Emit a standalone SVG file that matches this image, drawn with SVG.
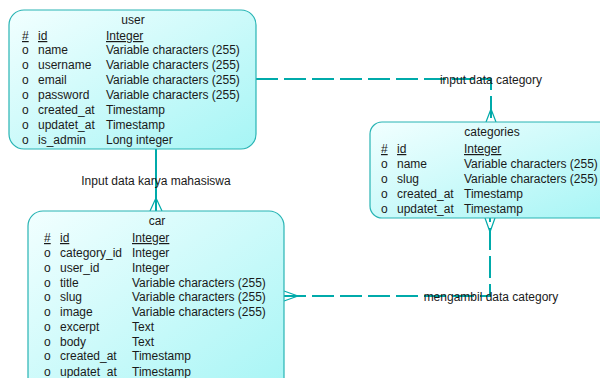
<svg xmlns="http://www.w3.org/2000/svg" width="600" height="378" viewBox="0 0 600 378">
<defs>
<linearGradient id="g" x1="0" y1="0" x2="1" y2="1">
<stop offset="0" stop-color="#f2ffff"/>
<stop offset="1" stop-color="#a6f5f5"/>
</linearGradient>
<style>
.box{fill:url(#g);stroke:#28b4b4;stroke-width:1.2}
text{font-family:"Liberation Sans",Arial,sans-serif;font-size:12px;fill:#1a1a1a}
.t{text-anchor:middle}
.u{text-decoration:underline}
.c{fill:none;stroke:#00aaaa;stroke-width:2}
.d{stroke-dasharray:22 6}
.f{fill:none;stroke:#00aaaa;stroke-width:1.2}
</style>
</defs>
<rect width="600" height="378" fill="#ffffff"/>
<g id="connectors">
<path class="c" d="M156 149 V211"/>
<path class="f" d="M156 198 L150 211 M156 198 L162 211"/>
<path class="c d" d="M256 79 H491 V122"/>
<path class="f" d="M491 109 L486 122 M491 109 L496 122"/>
<path class="c d" d="M284 296 H490 V218"/>
<path class="f" d="M298 296 L284 291 M298 296 L284 301"/>
<path class="f" d="M490 232 L485 218 M490 232 L495 218"/>
<text class="t" x="156" y="185">Input data karya mahasiswa</text>
<text class="t" x="491" y="84">input data category</text>
<text class="t" x="491" y="301">mengambil data category</text>
</g>
<g id="user">
<rect class="box" x="9" y="10" width="247" height="139" rx="15"/>
<text class="t" x="133" y="24">user</text>
<text class="u" x="22" y="40">#</text><text class="u" x="38" y="40">id</text><text class="u" x="106" y="40">Integer</text>
<text x="22" y="54">o</text><text x="38" y="54">name</text><text x="106" y="54">Variable characters (255)</text>
<text x="22" y="69">o</text><text x="38" y="69">username</text><text x="106" y="69">Variable characters (255)</text>
<text x="22" y="84">o</text><text x="38" y="84">email</text><text x="106" y="84">Variable characters (255)</text>
<text x="22" y="99">o</text><text x="38" y="99">password</text><text x="106" y="99">Variable characters (255)</text>
<text x="22" y="114">o</text><text x="38" y="114">created_at</text><text x="106" y="114">Timestamp</text>
<text x="22" y="129">o</text><text x="38" y="129">updatet_at</text><text x="106" y="129">Timestamp</text>
<text x="22" y="144">o</text><text x="38" y="144">is_admin</text><text x="106" y="144">Long integer</text>
</g>
<g id="car">
<rect class="box" x="28" y="211" width="256" height="185" rx="15"/>
<text class="t" x="157" y="225">car</text>
<text class="u" x="44" y="242">#</text><text class="u" x="60" y="242">id</text><text class="u" x="132" y="242">Integer</text>
<text x="44" y="257">o</text><text x="60" y="257">category_id</text><text x="132" y="257">Integer</text>
<text x="44" y="272">o</text><text x="60" y="272">user_id</text><text x="132" y="272">Integer</text>
<text x="44" y="287">o</text><text x="60" y="287">title</text><text x="132" y="287">Variable characters (255)</text>
<text x="44" y="301">o</text><text x="60" y="301">slug</text><text x="132" y="301">Variable characters (255)</text>
<text x="44" y="316">o</text><text x="60" y="316">image</text><text x="132" y="316">Variable characters (255)</text>
<text x="44" y="331">o</text><text x="60" y="331">excerpt</text><text x="132" y="331">Text</text>
<text x="44" y="346">o</text><text x="60" y="346">body</text><text x="132" y="346">Text</text>
<text x="44" y="360">o</text><text x="60" y="360">created_at</text><text x="132" y="360">Timestamp</text>
<text x="44" y="376">o</text><text x="60" y="376">updatet_at</text><text x="132" y="376">Timestamp</text>
</g>
<g id="categories">
<rect class="box" x="370" y="122" width="245" height="96" rx="12"/>
<text class="t" x="492" y="136">categories</text>
<text class="u" x="381" y="153">#</text><text class="u" x="397" y="153">id</text><text class="u" x="464" y="153">Integer</text>
<text x="381" y="168">o</text><text x="397" y="168">name</text><text x="464" y="168">Variable characters (255)</text>
<text x="381" y="183">o</text><text x="397" y="183">slug</text><text x="464" y="183">Variable characters (255)</text>
<text x="381" y="198">o</text><text x="397" y="198">created_at</text><text x="464" y="198">Timestamp</text>
<text x="381" y="213">o</text><text x="397" y="213">updatet_at</text><text x="464" y="213">Timestamp</text>
</g>
</svg>
